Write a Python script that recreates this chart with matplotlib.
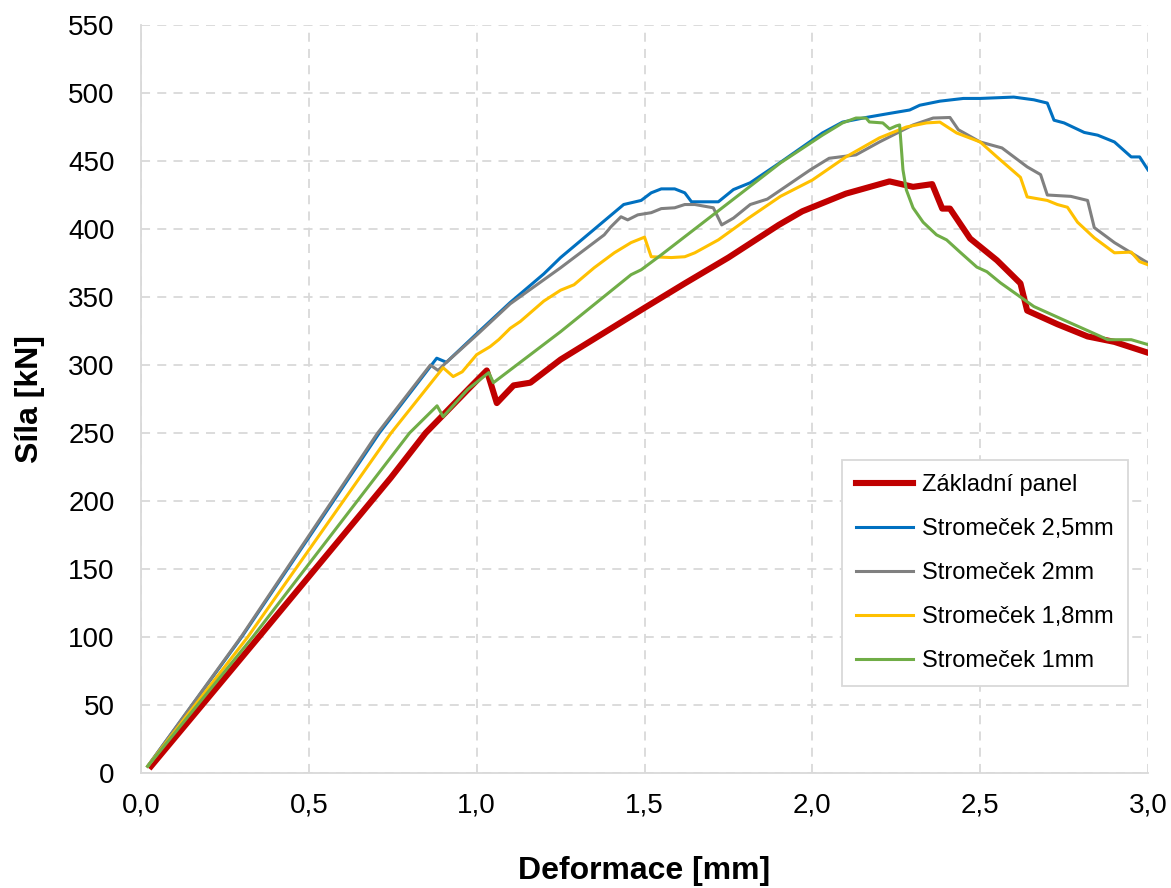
import numpy as np
import matplotlib
matplotlib.use("Agg")
import matplotlib.pyplot as plt

plt.rcParams['font.family'] = ['Liberation Sans', 'DejaVu Sans']

# data: deformation [mm] vs force [kN]
zakladni_x = [0.03, 0.351, 0.744, 0.848, 0.982, 1.03, 1.06, 1.11, 1.16, 1.25, 1.5, 1.62, 1.75, 1.9,
              1.97, 2.02, 2.1, 2.23, 2.30, 2.357, 2.387, 2.41, 2.47, 2.55, 2.62, 2.64, 2.73,
              2.82, 2.90, 3.0]
zakladni_y = [5, 100, 217, 250, 284, 296, 272, 285, 287, 304, 342, 360, 379, 403,
              413, 418, 426, 435, 431, 433, 415, 415, 393, 377, 360, 340, 330,
              321, 317, 309]

s25_x = [0.02, 0.30, 0.71, 0.881, 0.91, 1.0, 1.1, 1.2, 1.25, 1.438, 1.49, 1.52, 1.55, 1.59, 1.62,
         1.64, 1.72, 1.765, 1.815, 1.905, 2.03, 2.09, 2.16, 2.23, 2.29, 2.32, 2.38, 2.45,
         2.5, 2.6, 2.66, 2.70, 2.72, 2.75, 2.81, 2.85, 2.90, 2.95, 2.975, 3.0]
s25_y = [5, 100, 250, 305, 302, 323, 346, 367, 379, 418, 421, 426.6, 429.5, 429.5, 426.6,
         420, 420, 429, 434, 449, 470.6, 478.6, 482, 485, 487.5, 491, 494, 496,
         496, 497, 495, 492.6, 480, 478, 471, 469, 464, 453, 453, 443.5]

s2_x = [0.02, 0.298, 0.705, 0.862, 0.885, 0.91, 1.0, 1.1, 1.25, 1.38, 1.40, 1.43, 1.45, 1.48, 1.52,
        1.55, 1.59, 1.62, 1.65, 1.705, 1.73, 1.765, 1.815, 1.866, 1.994, 2.05, 2.13,
        2.20, 2.30, 2.36, 2.41, 2.435, 2.5, 2.565, 2.64, 2.68, 2.70, 2.77, 2.82, 2.84,
        2.90, 2.95, 3.0]
s2_y = [5, 100, 250, 300, 296, 302, 322, 345, 371.5, 395.7, 401.6, 409, 406.7, 410.4, 412,
        415, 415.6, 418, 418, 415.6, 403, 408, 418, 422, 443.5, 452, 454.5,
        464, 476.5, 481.6, 482, 473, 464, 459.6, 445.7, 440, 425, 424, 421, 401,
        390, 382.5, 375]

s18_x = [0.02, 0.318, 0.745, 0.90, 0.93, 0.957, 1.0, 1.04, 1.066, 1.1, 1.13, 1.2, 1.25, 1.29, 1.35,
         1.41, 1.46, 1.50, 1.52, 1.58, 1.62, 1.65, 1.72, 1.81, 1.905, 2.0, 2.10, 2.20,
         2.28, 2.34, 2.38, 2.43, 2.5, 2.55, 2.62, 2.64, 2.70, 2.73, 2.76, 2.79, 2.84,
         2.90, 2.95, 2.975, 3.0]
s18_y = [5, 100, 250, 298, 291.5, 295, 307.6, 313.5, 318.7, 327, 332, 347, 355, 359, 371.5,
         382.5, 390, 394, 379.6, 379, 379.6, 382.5, 392, 408, 424, 436, 453, 467,
         475, 478, 478.6, 470.6, 464, 453, 438, 423.6, 421, 418, 416, 405, 393.5,
         382.5, 383, 376, 373.7]

s1_x = [0.02, 0.333, 0.80, 0.882, 0.90, 0.973, 1.036, 1.05, 1.25, 1.46, 1.49, 1.55, 1.905, 2.03,
        2.09, 2.13, 2.16, 2.17, 2.21, 2.23, 2.25, 2.26, 2.27, 2.28, 2.30, 2.33, 2.37,
        2.40, 2.44, 2.49, 2.52, 2.56, 2.62, 2.66, 2.75, 2.85, 2.88, 2.95, 3.0]
s1_y = [5, 100, 250, 270, 262, 282, 294.4, 287, 324.5, 366.4, 370, 381, 448.6, 469,
        478, 481.6, 481.6, 478.7, 478, 473.6, 475.8, 476.5, 443.5, 428.8, 415.6, 405, 395.7,
        392, 383, 372, 368.6, 360.5, 350, 343, 333, 322, 318.6, 318.6, 315]

series_names = ['Základní panel', 'Stromeček 2,5mm', 'Stromeček 2mm',
                'Stromeček 1,8mm', 'Stromeček 1mm']
series_x = [zakladni_x, s25_x, s2_x, s18_x, s1_x]
series_y = [zakladni_y, s25_y, s2_y, s18_y, s1_y]
colors = ['#C00000', '#0070C0', '#808080', '#FFC000', '#70AD47']
widths = [4.4, 2.2, 2.2, 2.2, 2.2]

x_ticks = [0.0, 0.5, 1.0, 1.5, 2.0, 2.5, 3.0]
x_ticklabels = ['0,0', '0,5', '1,0', '1,5', '2,0', '2,5', '3,0']
y_ticks = list(range(0, 551, 50))

fig = plt.figure(figsize=(11.71, 8.88), dpi=100)
ax = fig.add_axes([141/1171, 1 - 773/888, 1007/1171, 748/888])

for xs, ys, c, lw, name in zip(series_x, series_y, colors, widths, series_names):
    ax.plot(xs, ys, color=c, lw=lw, label=name, solid_joinstyle='round')

ax.set_xlim(0, 3.0)
ax.set_ylim(0, 550)
ax.set_xticks(x_ticks, x_ticklabels)
ax.set_yticks(y_ticks)
ax.tick_params(axis='both', length=0, labelsize=20)
ax.tick_params(axis='x', pad=14)
ax.tick_params(axis='y', pad=19)

ax.grid(True, color='#D9D9D9', linestyle=(0, (5, 4)), linewidth=1.3)
ax.set_axisbelow(True)
for side in ['top', 'right']:
    ax.spines[side].set_visible(False)
for side in ['left', 'bottom']:
    ax.spines[side].set_color('#D9D9D9')
    ax.spines[side].set_linewidth(1.3)

ax.set_xlabel('Deformace [mm]', fontsize=23, fontweight='bold')
ax.set_ylabel('Síla [kN]', fontsize=23, fontweight='bold')
ax.xaxis.set_label_coords(0.5, -0.111)
ax.yaxis.set_label_coords(-0.095, 0.5)

leg = ax.legend(loc='lower right', bbox_to_anchor=(0.98, 0.116), borderaxespad=0,
                fontsize=17, frameon=True, fancybox=False, framealpha=1,
                edgecolor='#D9D9D9', handlelength=2.4, handletextpad=0.4,
                labelspacing=0.93, borderpad=0.6)
leg.get_frame().set_linewidth(1.3)

plt.savefig('out.png', dpi=100)
